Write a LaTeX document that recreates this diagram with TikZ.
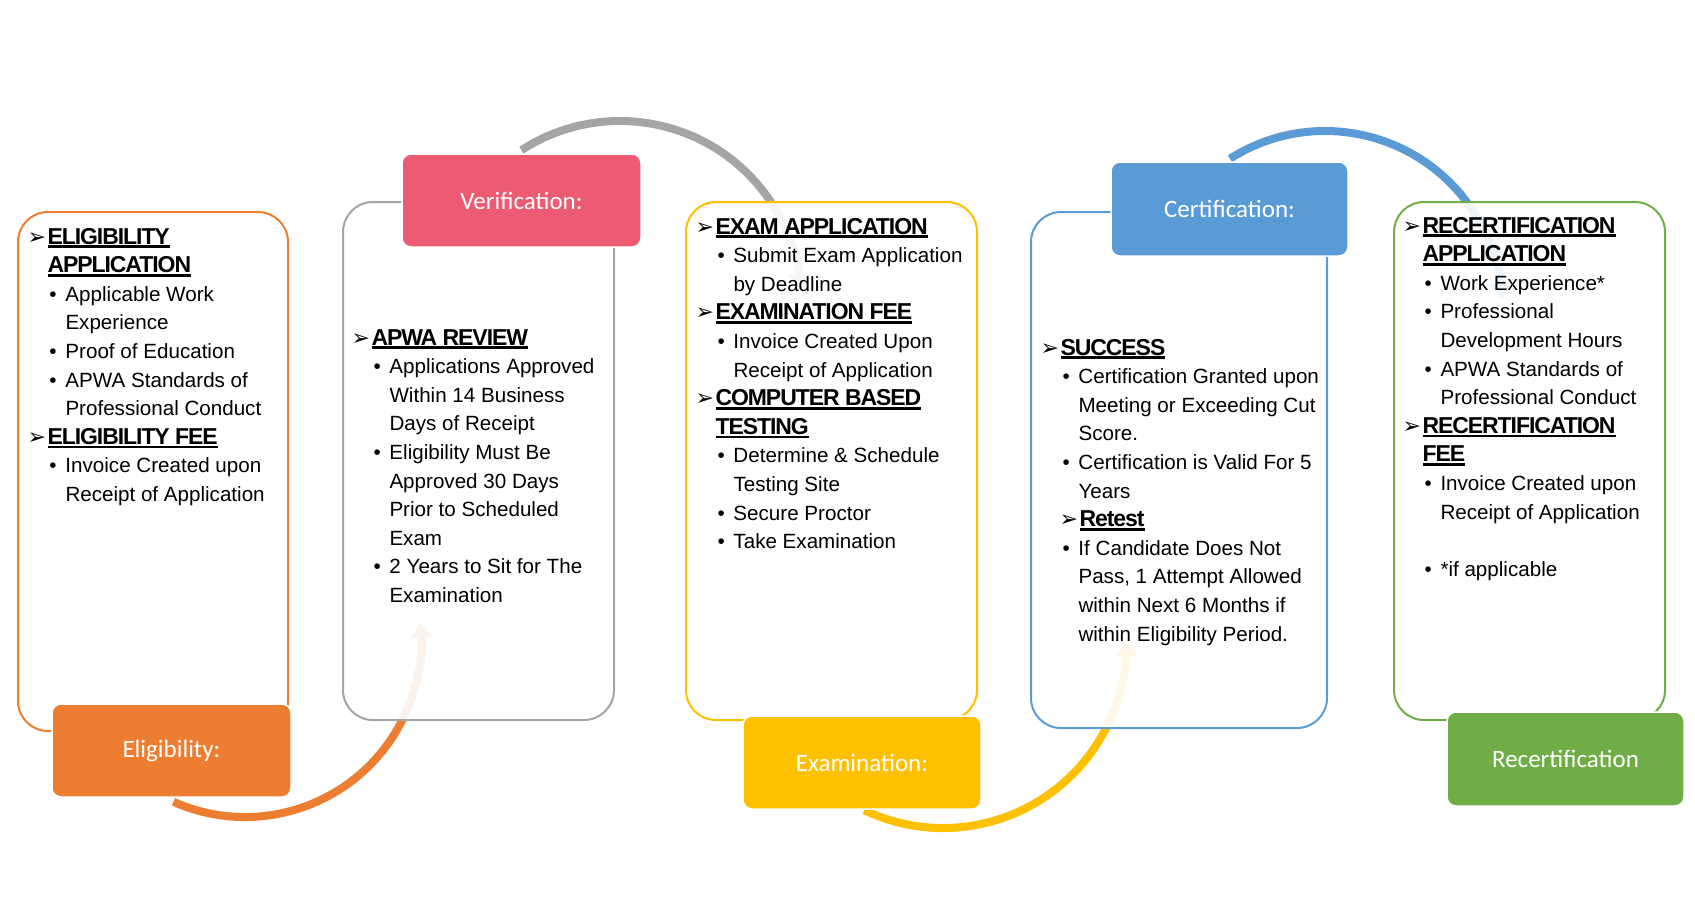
\documentclass[tikz,border=0pt]{standalone}
\usepackage{fontspec}
\setmainfont{Liberation Sans}
\newfontfamily\lblfont{Carlito}
\newfontfamily\symfont{DejaVu Sans}
\newfontfamily\hdfont[LetterSpace=-4.6]{Liberation Sans Bold}
\usetikzlibrary{arrows.meta}
\definecolor{cOrange}{HTML}{ED7D31}
\definecolor{cGray}{HTML}{A5A5A5}
\definecolor{cRed}{HTML}{EC5B71}
\definecolor{cYellow}{HTML}{FFC000}
\definecolor{cBlue}{HTML}{5B9BD5}
\definecolor{cGreen}{HTML}{70AD47}
\newcommand\arr{\hspace*{-1.5pt}\smash{\symfont\fontsize{22}{22}\selectfont ➢}}
\newcommand\ulx[1]{{\hdfont\fontsize{23}{28.6}\selectfont\setbox0\hbox{#1}\rlap{\rule[-4pt]{\wd0}{2.6pt}}\box0}}
\newcommand\hdr[1]{\makebox[18.5pt][l]{\arr}\ulx{#1}}
\newcommand\hdc[1]{\hspace*{18.5pt}\ulx{#1}}
\newcommand\bul[1]{\hspace*{20.5pt}\makebox[16pt][l]{•}#1}
\newcommand\buc[1]{\hspace*{36.5pt}#1}
\newcommand\boxtext[1]{\parbox[t]{420pt}{\fontsize{20.6}{28.6}\selectfont #1}}
\tikzset{
  cbox/.style={draw, line width=2pt, rounded corners=30pt, fill=white, fill opacity=0.9, inner sep=0pt, outer sep=0pt},
  lbl/.style={rounded corners=9pt, draw=white, line width=1.5pt, text=white, font=\lblfont\fontsize{25}{30}\selectfont, minimum height=93pt, inner sep=0pt},
  txt/.style={anchor=base west, inner sep=0pt, outer sep=0pt, text=black},
  arcline/.style={line width=8pt, -{Triangle[width=21pt,length=15pt]}}
}
\begin{document}
\begin{tikzpicture}[x=1pt,y=1pt]
\useasboundingbox (0,0) rectangle (1695,-922);
% arc centres
\coordinate (oc) at (245,-641);
\coordinate (gc) at (620,-302);
\coordinate (yc) at (943,-645);
\coordinate (bc) at (1325,-308);
% arcs (drawn first, faded by the boxes)
\draw[arcline, cOrange] (oc) ++(-114:176) arc[start angle=-114, end angle=6, radius=176];
\draw[arcline, cGray] (gc) ++(123:181) arc[start angle=123, end angle=4, radius=181];
\draw[arcline, cYellow] (yc) ++(-115.5:183) arc[start angle=-115.5, end angle=1, radius=183];
\draw[arcline, cBlue] (bc) ++(122.5:177) arc[start angle=122.5, end angle=3, radius=177];
% content boxes
\node[cbox, draw=cOrange, minimum width=270pt, minimum height=519pt] (b1) at (153,-471.5) {};
\node[cbox, draw=cGray, minimum width=271pt, minimum height=518pt] (b2) at (478.5,-461) {};
\node[cbox, draw=cYellow, minimum width=291pt, minimum height=518pt] (b3) at (831.5,-461) {};
\node[cbox, draw=cBlue, minimum width=296pt, minimum height=516pt] (b4) at (1179,-470) {};
\node[cbox, draw=cGreen, minimum width=271pt, minimum height=518pt] (b5) at (1529.5,-461) {};
% texts
\node[txt] (t1) at (29,-244) {\boxtext{%
\hdr{ELIGIBILITY}\\
\hdc{APPLICATION}\\
\bul{Applicable Work}\\
\buc{Experience}\\
\bul{Proof of Education}\\
\bul{APWA Standards of}\\
\buc{Professional Conduct}\\
\hdr{ELIGIBILITY FEE}\\
\bul{Invoice Created upon}\\
\buc{Receipt of Application}}};
\node[txt] (t2) at (353,-345) {\boxtext{%
\hdr{APWA REVIEW}\\
\bul{Applications Approved}\\
\buc{Within 14 Business}\\
\buc{Days of Receipt}\\
\bul{Eligibility Must Be}\\
\buc{Approved 30 Days}\\
\buc{Prior to Scheduled}\\
\buc{Exam}\\
\bul{2 Years to Sit for The}\\
\buc{Examination}}};
\node[txt] (t3) at (697,-234) {\boxtext{%
\hdr{EXAM APPLICATION}\\
\bul{Submit Exam Application}\\
\buc{by Deadline}\\
\hdr{EXAMINATION FEE}\\
\bul{Invoice Created Upon}\\
\buc{Receipt of Application}\\
\hdr{COMPUTER BASED}\\
\hdc{TESTING}\\
\bul{Determine \& Schedule}\\
\buc{Testing Site}\\
\bul{Secure Proctor}\\
\bul{Take Examination}}};
\node[txt] (t4) at (1042,-355) {\boxtext{%
\hdr{SUCCESS}\\
\bul{Certification Granted upon}\\
\buc{Meeting or Exceeding Cut}\\
\buc{Score.}\\
\bul{Certification is Valid For 5}\\
\buc{Years}\\
\hspace*{19pt}\hdr{Retest}\\
\bul{If Candidate Does Not}\\
\buc{Pass, 1 Attempt Allowed}\\
\buc{within Next 6 Months if}\\
\buc{within Eligibility Period.}}};
\node[txt] (t5) at (1404,-233) {\boxtext{%
\hdr{RECERTIFICATION}\\
\hdc{APPLICATION}\\
\bul{Work Experience*}\\
\bul{Professional}\\
\buc{Development Hours}\\
\bul{APWA Standards of}\\
\buc{Professional Conduct}\\
\hdr{RECERTIFICATION}\\
\hdc{FEE}\\
\bul{Invoice Created upon}\\
\buc{Receipt of Application}\\[28.6pt]
\bul{*if applicable}}};
% labels
\node[lbl, fill=cOrange, minimum width=239pt] (l1) at (171.5,-750.5) {Eligibility:};
\node[lbl, fill=cRed, minimum width=239pt] (l2) at (521.5,-200.5) {Verification:};
\node[lbl, fill=cYellow, minimum width=238pt] (l3) at (862,-762.5) {Examination:};
\node[lbl, fill=cBlue, minimum width=237pt, minimum height=94pt] (l4) at (1229.5,-209) {Certification:};
\node[lbl, fill=cGreen, minimum width=237pt, minimum height=94pt] (l5) at (1565.5,-759) {Recertification};
\end{tikzpicture}
\end{document}
